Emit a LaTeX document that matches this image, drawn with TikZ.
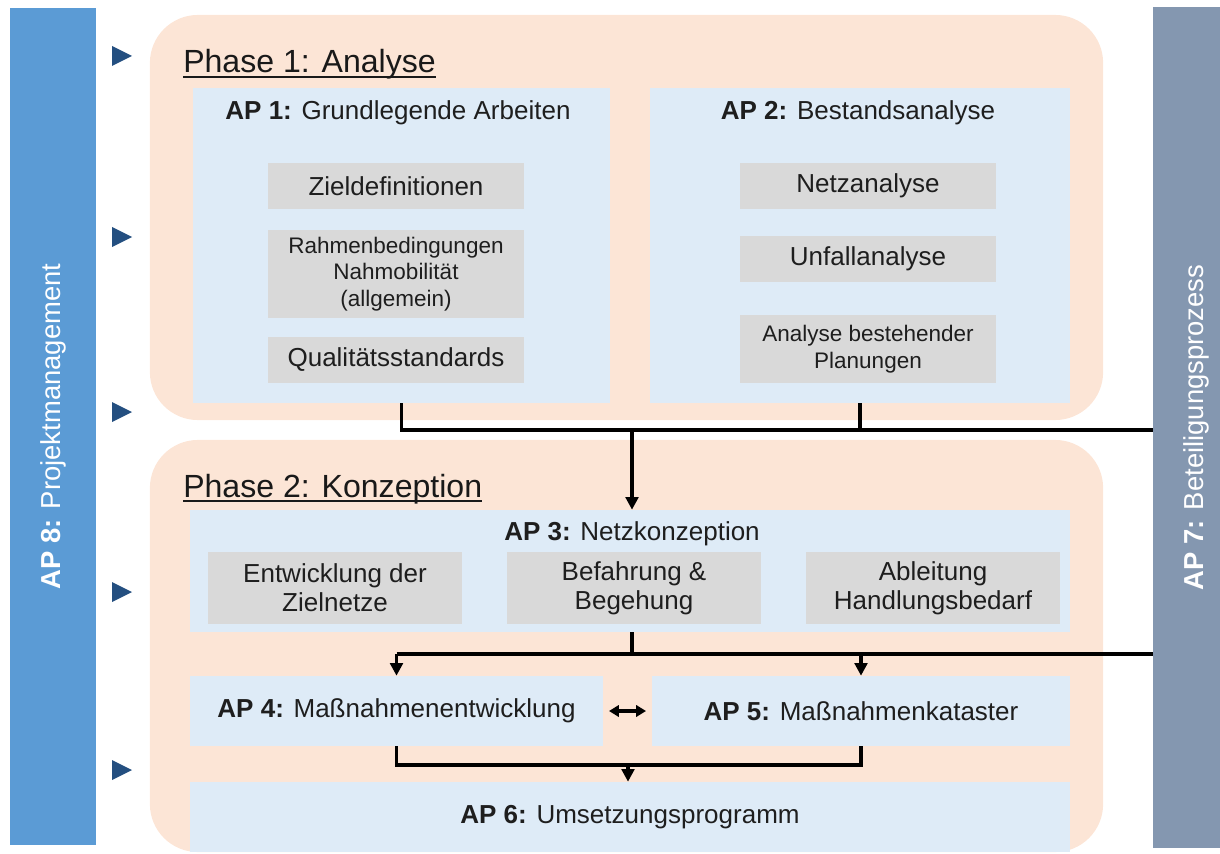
\documentclass[tikz,border=0pt]{standalone}
\usepackage{fontspec}
\setmainfont{Liberation Sans}
\usepackage{xcolor}
\usepackage{tikz}
\usetikzlibrary{arrows.meta}

\definecolor{pmblue}{RGB}{91,155,213}
\definecolor{bpgray}{RGB}{132,151,176}
\definecolor{phasebg}{RGB}{252,229,214}
\definecolor{apbg}{RGB}{222,235,247}
\definecolor{subgray}{RGB}{217,217,217}
\definecolor{tridark}{RGB}{36,79,128}
\definecolor{txt}{RGB}{30,30,30}

\begin{document}
\begin{tikzpicture}[
    x=0.025cm, y=-0.025cm,
    bar/.style = {
        rotate=90, inner sep=0pt, text=white,
        font=\fontsize{19.5}{23}\selectfont
    },
    phase/.style = {
        fill=phasebg, rounded corners=1.2cm,
        minimum width=23.825cm, inner sep=0pt
    },
    ptitle/.style = {
        anchor=base west, inner sep=0pt, text=black!90,
        font=\fontsize{22.8}{26}\selectfont
    },
    apbox/.style = {
        fill=apbg, inner sep=0pt, text=txt,
        font=\fontsize{18.5}{22}\selectfont
    },
    aptitle/.style = {
        anchor=base, inner sep=0pt, text=txt,
        font=\fontsize{18.5}{22}\selectfont
    },
    sbox/.style = {
        fill=subgray, inner sep=0pt, minimum width=6.375cm,
        align=center, text=txt, font=\fontsize{18.5}{20.5}\selectfont
    },
    ssmall/.style = {sbox, font=\fontsize{16}{19}\selectfont},
    uline/.style = {line width=1.5pt, black!90},
    line/.style = {line width=2.5pt},
    arr/.style = {line width=2.5pt, -{Triangle[length=9pt,width=9pt]}},
    darr/.style = {line width=2.5pt,
        {Triangle[length=7pt,width=8pt]}-{Triangle[length=7pt,width=8pt]}}
]
\useasboundingbox (0,0) rectangle (1220,853);

%% ---- SIDE BARS ----
\node[bar, fill=pmblue, minimum width=20.925cm, minimum height=2.15cm]
    (pm) at (53,426.5) {\textbf{AP 8:} Projektmanagement};
\node[bar, fill=bpgray, minimum width=21.025cm, minimum height=2.15cm]
    (bp) at (1196,427.5) {\textbf{AP 7:} Beteiligungsprozess};

\foreach \ty in {56,237,412,592,770}
    \fill[tridark] (112,\ty-10) -- (132,\ty) -- (112,\ty+10) -- cycle;

%% ---- PHASE 1 ----
\node[phase, minimum height=10.125cm] (ph1) at (626.5,217.5) {};
\node[ptitle] (ph1t) at (183,73) {Phase 1: Analyse};
\draw[uline] ([yshift=-3pt]ph1t.base west) -- ([yshift=-3pt]ph1t.base east);

\node[apbox, minimum width=10.425cm, minimum height=7.875cm] (ap1) at (401.5,245.5) {};
\node[aptitle] (ap1t) at (398,120) {\textbf{AP 1:} Grundlegende Arbeiten};
\node[sbox, minimum height=1.125cm] (zd) at (396,186) {Zieldefinitionen};
\node[ssmall, minimum height=2.2cm] (rb) at (396,274) {Rahmenbedingungen\\Nahmobilität\\(allgemein)};
\node[sbox, minimum height=1.125cm] (qs) at (396,360) {Qualitätsstandards};

\node[apbox, minimum width=10.5cm, minimum height=7.875cm] (ap2) at (860,245.5) {};
\node[aptitle] (ap2t) at (858,120) {\textbf{AP 2:} Bestandsanalyse};
\node[sbox, minimum height=1.125cm] (na) at (868,186) {Netzanalyse};
\node[sbox, minimum height=1.15cm] (ua) at (868,259) {Unfallanalyse};
\node[ssmall, minimum height=1.675cm] (ab) at (868,349) {Analyse bestehender\\Planungen};

%% ---- PHASE 2 ----
\node[phase, minimum height=10.3cm] (ph2) at (626.5,646) {};
\node[ptitle] (ph2t) at (183,497) {Phase 2: Konzeption};
\draw[uline] ([yshift=-3pt]ph2t.base west) -- ([yshift=-3pt]ph2t.base east);

\node[apbox, minimum width=22cm, minimum height=3.05cm] (ap3) at (630,571) {};
\node[aptitle] (ap3t) at (632,540) {\textbf{AP 3:} Netzkonzeption};
\node[sbox, minimum width=6.35cm, minimum height=1.775cm] (ez) at (335,588) {Entwicklung der\\Zielnetze};
\node[sbox, minimum width=6.35cm, minimum height=1.775cm] (bb) at (634,588) {Befahrung \&\\Begehung};
\node[sbox, minimum width=6.35cm, minimum height=1.775cm] (ah) at (933,588) {Ableitung\\Handlungsbedarf};

\node[apbox, minimum width=10.325cm, minimum height=1.75cm] (ap4) at (396.5,711)
    {\textbf{AP 4:} Maßnahmenentwicklung};
\node[apbox, minimum width=10.45cm, minimum height=1.75cm] (ap5) at (861,711)
    {\textbf{AP 5:} Maßnahmenkataster};
\node[apbox, minimum width=22cm, minimum height=1.75cm] (ap6) at (630,817)
    {\textbf{AP 6:} Umsetzungsprogramm};

%% ---- CONNECTORS ----
\coordinate (j1) at (632,430);
\coordinate (j2) at (632,654);
\coordinate (j3) at (628,765);

\draw[line] (ap1.south) |- (j1 -| bp.north);
\draw[line] (ap2.south) -- (ap2.south |- j1);
\draw[arr]  (j1) -- (j1 |- ap3.north);

\draw[line] (ap3.south -| j2) -- (j2);
\draw[line] (j2 -| ap4.north) -- (j2 -| bp.north);
\draw[arr]  (j2 -| ap4.north) -- (ap4.north);
\draw[arr]  (j2 -| ap5.north) -- (ap5.north);

\draw[darr, shorten <=4pt, shorten >=4pt] (ap4.east) -- (ap5.west);

\draw[line] (ap4.south) |- (j3 -| ap5.south) -- (ap5.south);
\draw[arr]  (j3) -- (j3 |- ap6.north);

\end{tikzpicture}
\end{document}
